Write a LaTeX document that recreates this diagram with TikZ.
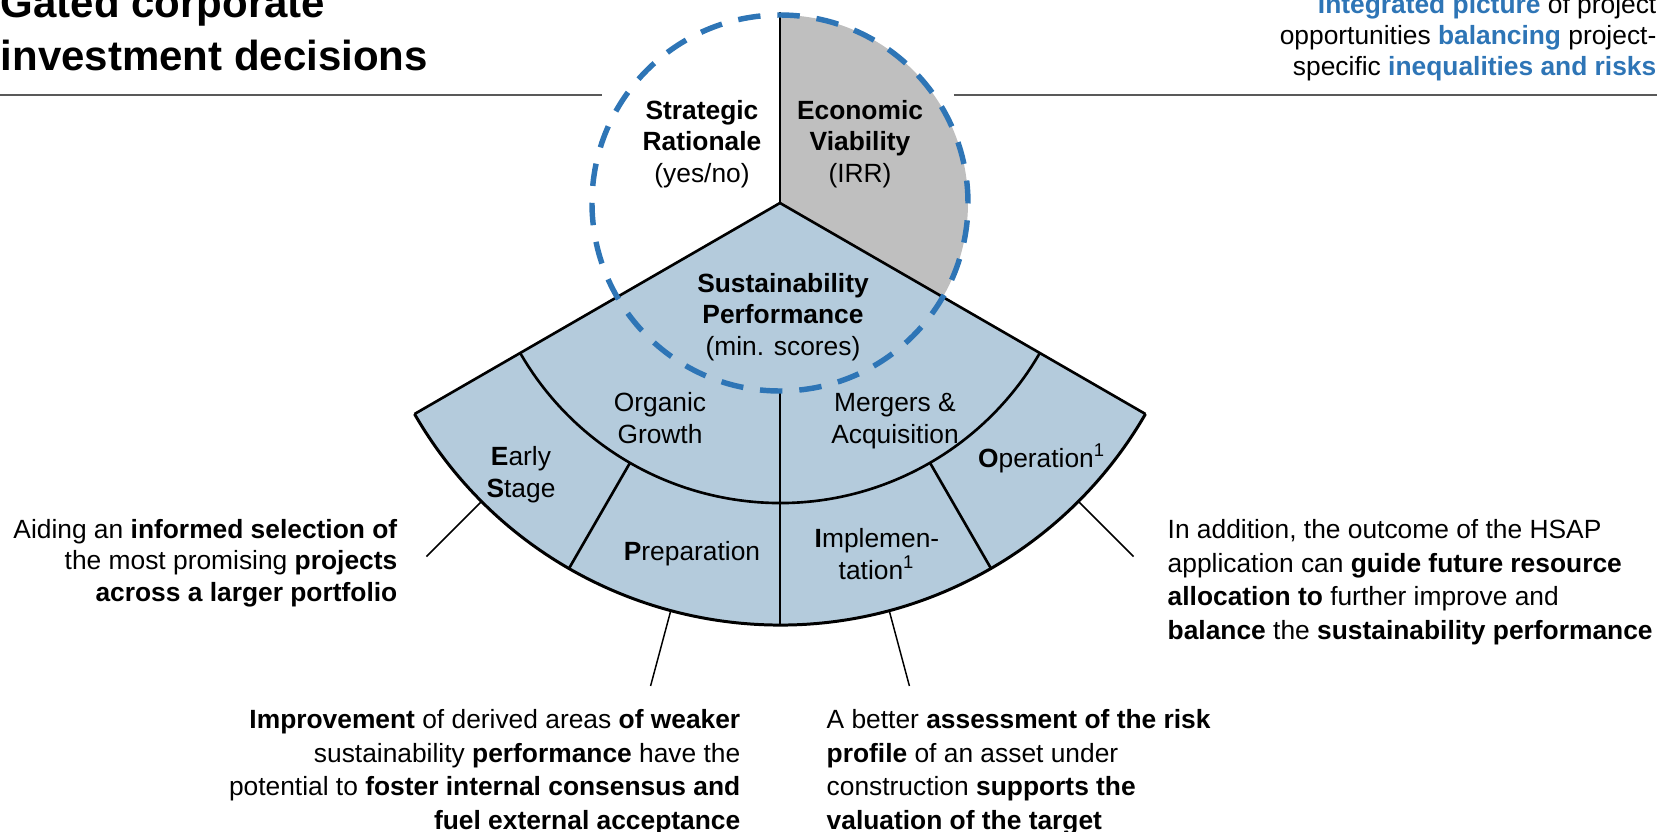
\documentclass[tikz,border=0pt]{standalone}
\usepackage{fontspec}
\setmainfont{Liberation Sans}
\usetikzlibrary{positioning}

\definecolor{hsapblue}{RGB}{46,117,182}
\definecolor{fanblue}{RGB}{180,203,220}
\definecolor{viabgray}{RGB}{191,191,191}
\definecolor{rulegray}{RGB}{89,89,89}

\newcommand{\hb}[1]{\textcolor{hsapblue}{\textbf{#1}}}

\begin{document}
\begin{tikzpicture}[
    lbl/.style={font=\fontsize{7.5}{8.95}\selectfont, inner sep=0pt, align=center, anchor=base},
    note/.style={font=\fontsize{7.5}{8.95}\selectfont, inner sep=0pt},
    widenote/.style={note, font=\fontsize{7.5}{9.5}\selectfont},
    pieline/.style={line width=0.75pt, black},
    leader/.style={line width=0.42pt, black},
    dashring/.style={hsapblue, line width=1.55pt, dash pattern=on 6.4pt off 4.8pt}
  ]
  \useasboundingbox (-7.80,2.03) rectangle (8.91,-6.28);

  % Header: title, summary and the two rules
  % (a node's base is the baseline of its last line)
  \node[anchor=base west, inner sep=0pt, align=left,
    font=\fontsize{11.95}{14.8}\selectfont\bfseries] (title) at (-7.80,1.33)
    {Gated corporate\\investment decisions};
  \node[note, anchor=base east, align=right] (summary) at (8.77,1.27)
    {\hb{Integrated picture} of project\\
     opportunities \hb{balancing} project-\\
     specific \hb{inequalities and risks}};
  \draw[rulegray, line width=0.6pt] (-7.80,1.08) -- (-1.78,1.08);
  \draw[rulegray, line width=0.6pt] (1.74,1.08) -- (8.77,1.08);

  % Grey sector and the blue fan
  \fill[viabgray] (0,0) -- (90:1.88) arc[start angle=90, end angle=-30, radius=1.88] -- cycle;
  \fill[fanblue] (0,0) -- (-150:4.22) arc[start angle=-150, end angle=-30, radius=4.22] -- cycle;

  % Sector borders
  \draw[pieline] (90:1.91) -- (0,0);
  \draw[pieline] (-150:4.22) -- (0,0) -- (-30:4.22);
  \draw[pieline] (-150:3.0) arc[start angle=-150, end angle=-30, radius=3.0];
  \draw[pieline, line width=0.85pt] (-150:4.22) arc[start angle=-150, end angle=-30, radius=4.22];
  \draw[pieline] (-90:1.88) -- (-90:4.22);
  \foreach \a in {-120,-60}
    \draw[pieline] (\a:3.0) -- (\a:4.22);

  % Leaders from the fan to the notes
  \foreach \a/\n in {225/early,255/prep,285/impl,315/oper} {
    \coordinate (\n arc) at (\a:4.22);
    \coordinate (\n end) at (\a:5.0);
    \draw[leader] (\n arc) -- (\n end);
  }

  % Dashed ring on top
  \draw[dashring] (0,0) circle (1.88);

  % Labels inside the pie
  \node[lbl] (strat) at (-0.78,0.21) {\textbf{Strategic}\\\textbf{Rationale}\\(yes/no)};
  \node[lbl] (econ) at (0.80,0.21) {\textbf{Economic}\\\textbf{Viability}\\(IRR)};
  \node[lbl] (sust) at (0.03,-1.52) {\textbf{Sustainability}\\\textbf{Performance}\\(min. scores)};
  \node[lbl] (organic) at (-1.20,-2.40) {Organic\\Growth};
  \node[lbl] (merger) at (1.15,-2.40) {Mergers \&\\Acquisition};
  \node[lbl] (early) at (-2.59,-2.94) {\textbf{E}arly\\\textbf{S}tage};
  \node[lbl] (prep) at (-0.88,-3.57) {\textbf{P}reparation};
  \node[lbl] (impl) at (0.97,-3.76) {\textbf{I}mplemen-\\tation\textsuperscript{1}};
  \node[lbl] (oper) at (2.62,-2.64) {\textbf{O}peration\textsuperscript{1}};

  % Notes around the fan
  \node[note, anchor=base east, align=right] (selnote) at (-3.82,-3.98)
    {Aiding an \textbf{informed selection of}\\
     the most promising \textbf{projects}\\
     \textbf{across a larger portfolio}};
  \node[widenote, anchor=base west, align=left] (opnote) at (3.87,-4.36)
    {In addition, the outcome of the HSAP\\
     application can \textbf{guide future resource}\\
     \textbf{allocation to} further improve and\\
     \textbf{balance} the \textbf{sustainability performance}};
  \node[widenote, anchor=base east, align=right] (prepnote) at (-0.39,-6.26)
    {\textbf{Improvement} of derived areas \textbf{of weaker}\\
     sustainability \textbf{performance} have the\\
     potential to \textbf{foster internal consensus and}\\
     \textbf{fuel external acceptance}};
  \node[widenote, anchor=base west, align=left] (implnote) at (0.46,-6.26)
    {A better \textbf{assessment of the risk}\\
     \textbf{profile} of an asset under\\
     construction \textbf{supports the}\\
     \textbf{valuation of the target}};
\end{tikzpicture}
\end{document}
